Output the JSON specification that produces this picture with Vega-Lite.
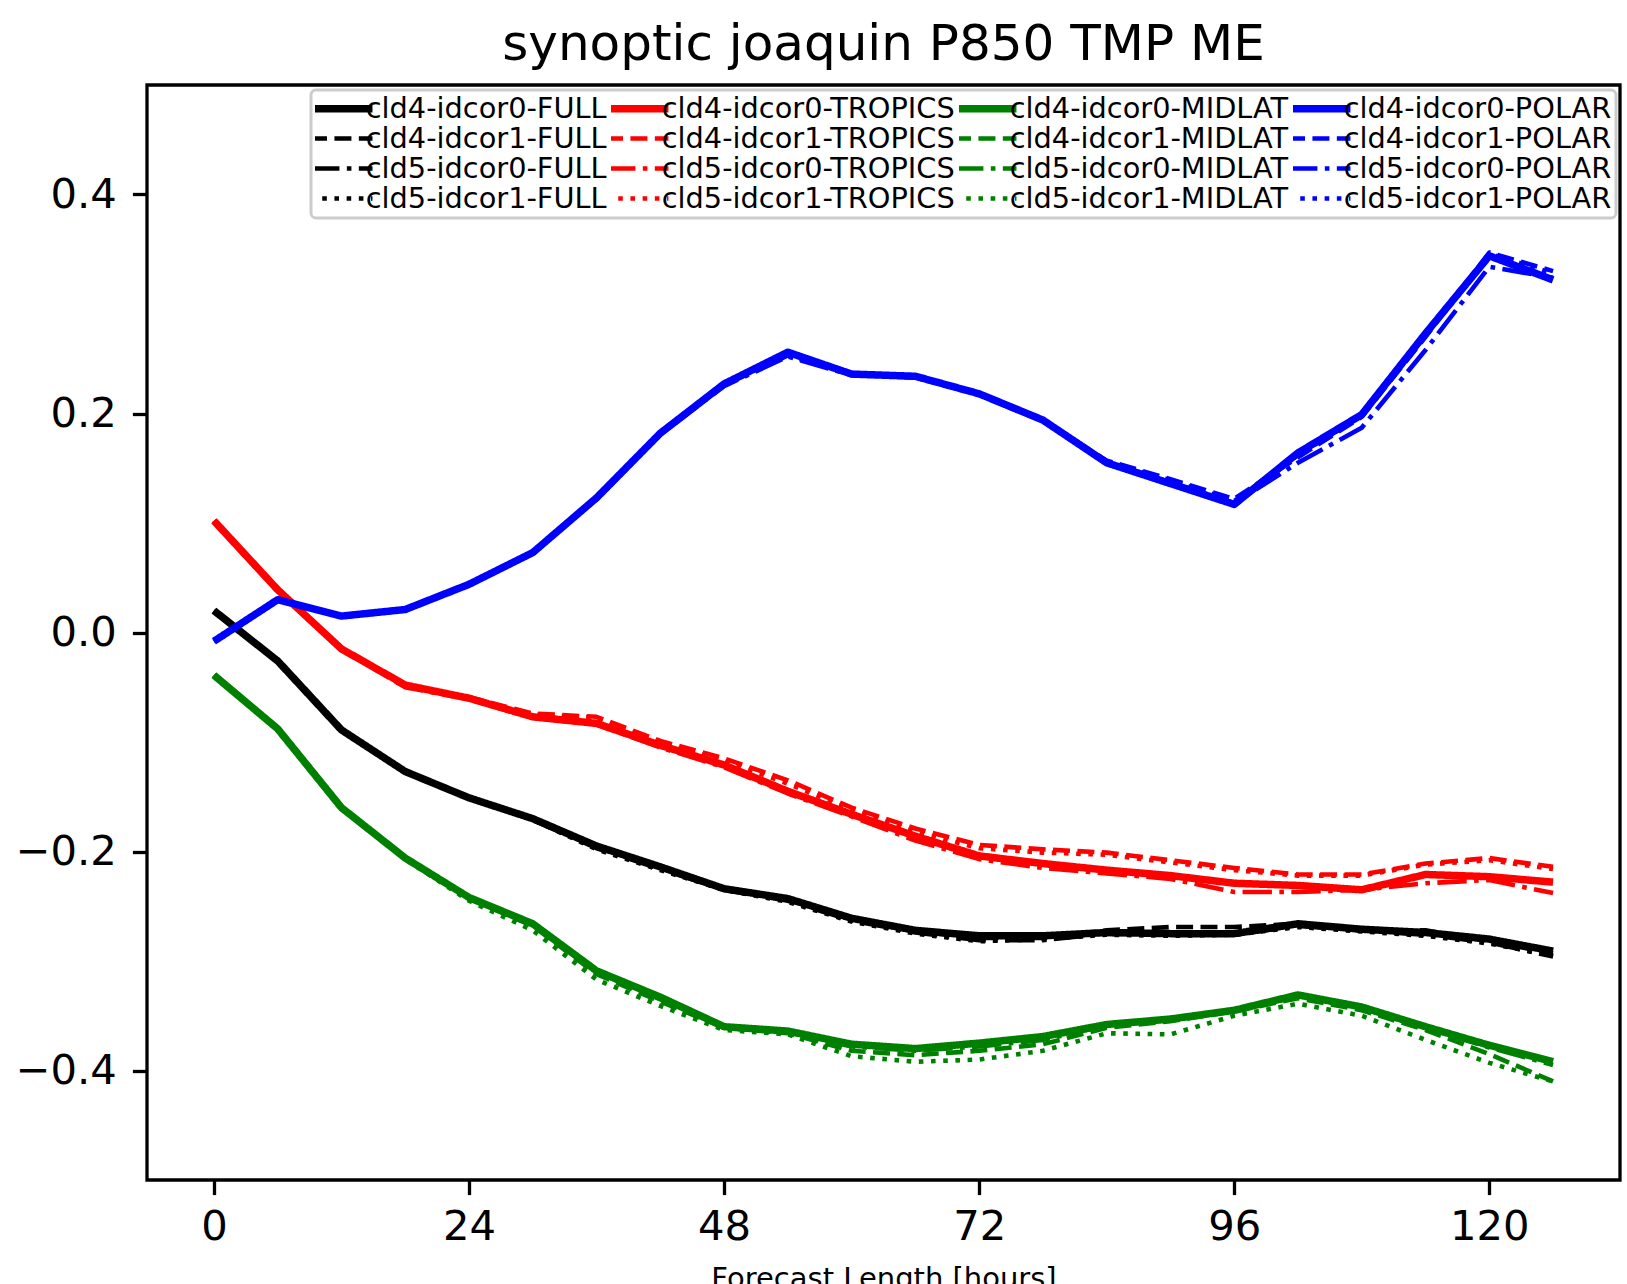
{
  "$schema": "https://vega.github.io/schema/vega-lite/v6.json",
  "autosize": {"type": "none"},
  "width": 1473,
  "height": 1095,
  "padding": {"left": 147, "top": 85, "right": 7, "bottom": 104},
  "background": "white",
  "title": {"text": "synoptic joaquin P850 TMP ME", "font": "DejaVu Sans", "fontSize": 50, "fontWeight": "normal", "color": "black", "baseline": "alphabetic", "offset": -25, "anchor": "middle"},
  "data": {"values": [
    {"series":"cld4-idcor0-FULL","hour":0,"value":0.020},{"series":"cld4-idcor0-FULL","hour":6,"value":-0.026},{"series":"cld4-idcor0-FULL","hour":12,"value":-0.089},{"series":"cld4-idcor0-FULL","hour":18,"value":-0.127},{"series":"cld4-idcor0-FULL","hour":24,"value":-0.151},{"series":"cld4-idcor0-FULL","hour":30,"value":-0.170},{"series":"cld4-idcor0-FULL","hour":36,"value":-0.195},{"series":"cld4-idcor0-FULL","hour":42,"value":-0.214},{"series":"cld4-idcor0-FULL","hour":48,"value":-0.234},{"series":"cld4-idcor0-FULL","hour":54,"value":-0.243},{"series":"cld4-idcor0-FULL","hour":60,"value":-0.261},{"series":"cld4-idcor0-FULL","hour":66,"value":-0.272},{"series":"cld4-idcor0-FULL","hour":72,"value":-0.277},{"series":"cld4-idcor0-FULL","hour":78,"value":-0.277},{"series":"cld4-idcor0-FULL","hour":84,"value":-0.274},{"series":"cld4-idcor0-FULL","hour":90,"value":-0.275},{"series":"cld4-idcor0-FULL","hour":96,"value":-0.275},{"series":"cld4-idcor0-FULL","hour":102,"value":-0.266},{"series":"cld4-idcor0-FULL","hour":108,"value":-0.271},{"series":"cld4-idcor0-FULL","hour":114,"value":-0.274},{"series":"cld4-idcor0-FULL","hour":120,"value":-0.280},{"series":"cld4-idcor0-FULL","hour":126,"value":-0.291},
    {"series":"cld4-idcor1-FULL","hour":0,"value":0.020},{"series":"cld4-idcor1-FULL","hour":6,"value":-0.026},{"series":"cld4-idcor1-FULL","hour":12,"value":-0.089},{"series":"cld4-idcor1-FULL","hour":18,"value":-0.127},{"series":"cld4-idcor1-FULL","hour":24,"value":-0.151},{"series":"cld4-idcor1-FULL","hour":30,"value":-0.171},{"series":"cld4-idcor1-FULL","hour":36,"value":-0.196},{"series":"cld4-idcor1-FULL","hour":42,"value":-0.215},{"series":"cld4-idcor1-FULL","hour":48,"value":-0.234},{"series":"cld4-idcor1-FULL","hour":54,"value":-0.244},{"series":"cld4-idcor1-FULL","hour":60,"value":-0.262},{"series":"cld4-idcor1-FULL","hour":66,"value":-0.273},{"series":"cld4-idcor1-FULL","hour":72,"value":-0.279},{"series":"cld4-idcor1-FULL","hour":78,"value":-0.279},{"series":"cld4-idcor1-FULL","hour":84,"value":-0.272},{"series":"cld4-idcor1-FULL","hour":90,"value":-0.269},{"series":"cld4-idcor1-FULL","hour":96,"value":-0.269},{"series":"cld4-idcor1-FULL","hour":102,"value":-0.266},{"series":"cld4-idcor1-FULL","hour":108,"value":-0.272},{"series":"cld4-idcor1-FULL","hour":114,"value":-0.272},{"series":"cld4-idcor1-FULL","hour":120,"value":-0.282},{"series":"cld4-idcor1-FULL","hour":126,"value":-0.293},
    {"series":"cld5-idcor0-FULL","hour":0,"value":0.020},{"series":"cld5-idcor0-FULL","hour":6,"value":-0.026},{"series":"cld5-idcor0-FULL","hour":12,"value":-0.089},{"series":"cld5-idcor0-FULL","hour":18,"value":-0.127},{"series":"cld5-idcor0-FULL","hour":24,"value":-0.151},{"series":"cld5-idcor0-FULL","hour":30,"value":-0.171},{"series":"cld5-idcor0-FULL","hour":36,"value":-0.197},{"series":"cld5-idcor0-FULL","hour":42,"value":-0.216},{"series":"cld5-idcor0-FULL","hour":48,"value":-0.235},{"series":"cld5-idcor0-FULL","hour":54,"value":-0.245},{"series":"cld5-idcor0-FULL","hour":60,"value":-0.263},{"series":"cld5-idcor0-FULL","hour":66,"value":-0.274},{"series":"cld5-idcor0-FULL","hour":72,"value":-0.281},{"series":"cld5-idcor0-FULL","hour":78,"value":-0.281},{"series":"cld5-idcor0-FULL","hour":84,"value":-0.275},{"series":"cld5-idcor0-FULL","hour":90,"value":-0.276},{"series":"cld5-idcor0-FULL","hour":96,"value":-0.276},{"series":"cld5-idcor0-FULL","hour":102,"value":-0.268},{"series":"cld5-idcor0-FULL","hour":108,"value":-0.272},{"series":"cld5-idcor0-FULL","hour":114,"value":-0.276},{"series":"cld5-idcor0-FULL","hour":120,"value":-0.283},{"series":"cld5-idcor0-FULL","hour":126,"value":-0.296},
    {"series":"cld5-idcor1-FULL","hour":0,"value":0.020},{"series":"cld5-idcor1-FULL","hour":6,"value":-0.026},{"series":"cld5-idcor1-FULL","hour":12,"value":-0.089},{"series":"cld5-idcor1-FULL","hour":18,"value":-0.127},{"series":"cld5-idcor1-FULL","hour":24,"value":-0.151},{"series":"cld5-idcor1-FULL","hour":30,"value":-0.171},{"series":"cld5-idcor1-FULL","hour":36,"value":-0.198},{"series":"cld5-idcor1-FULL","hour":42,"value":-0.217},{"series":"cld5-idcor1-FULL","hour":48,"value":-0.235},{"series":"cld5-idcor1-FULL","hour":54,"value":-0.246},{"series":"cld5-idcor1-FULL","hour":60,"value":-0.264},{"series":"cld5-idcor1-FULL","hour":66,"value":-0.275},{"series":"cld5-idcor1-FULL","hour":72,"value":-0.282},{"series":"cld5-idcor1-FULL","hour":78,"value":-0.280},{"series":"cld5-idcor1-FULL","hour":84,"value":-0.276},{"series":"cld5-idcor1-FULL","hour":90,"value":-0.277},{"series":"cld5-idcor1-FULL","hour":96,"value":-0.276},{"series":"cld5-idcor1-FULL","hour":102,"value":-0.269},{"series":"cld5-idcor1-FULL","hour":108,"value":-0.273},{"series":"cld5-idcor1-FULL","hour":114,"value":-0.277},{"series":"cld5-idcor1-FULL","hour":120,"value":-0.284},{"series":"cld5-idcor1-FULL","hour":126,"value":-0.295},
    {"series":"cld4-idcor0-TROPICS","hour":0,"value":0.102},{"series":"cld4-idcor0-TROPICS","hour":6,"value":0.039},{"series":"cld4-idcor0-TROPICS","hour":12,"value":-0.015},{"series":"cld4-idcor0-TROPICS","hour":18,"value":-0.048},{"series":"cld4-idcor0-TROPICS","hour":24,"value":-0.060},{"series":"cld4-idcor0-TROPICS","hour":30,"value":-0.077},{"series":"cld4-idcor0-TROPICS","hour":36,"value":-0.083},{"series":"cld4-idcor0-TROPICS","hour":42,"value":-0.103},{"series":"cld4-idcor0-TROPICS","hour":48,"value":-0.121},{"series":"cld4-idcor0-TROPICS","hour":54,"value":-0.145},{"series":"cld4-idcor0-TROPICS","hour":60,"value":-0.166},{"series":"cld4-idcor0-TROPICS","hour":66,"value":-0.186},{"series":"cld4-idcor0-TROPICS","hour":72,"value":-0.204},{"series":"cld4-idcor0-TROPICS","hour":78,"value":-0.211},{"series":"cld4-idcor0-TROPICS","hour":84,"value":-0.217},{"series":"cld4-idcor0-TROPICS","hour":90,"value":-0.222},{"series":"cld4-idcor0-TROPICS","hour":96,"value":-0.229},{"series":"cld4-idcor0-TROPICS","hour":102,"value":-0.231},{"series":"cld4-idcor0-TROPICS","hour":108,"value":-0.235},{"series":"cld4-idcor0-TROPICS","hour":114,"value":-0.221},{"series":"cld4-idcor0-TROPICS","hour":120,"value":-0.223},{"series":"cld4-idcor0-TROPICS","hour":126,"value":-0.228},
    {"series":"cld4-idcor1-TROPICS","hour":0,"value":0.102},{"series":"cld4-idcor1-TROPICS","hour":6,"value":0.039},{"series":"cld4-idcor1-TROPICS","hour":12,"value":-0.015},{"series":"cld4-idcor1-TROPICS","hour":18,"value":-0.049},{"series":"cld4-idcor1-TROPICS","hour":24,"value":-0.059},{"series":"cld4-idcor1-TROPICS","hour":30,"value":-0.074},{"series":"cld4-idcor1-TROPICS","hour":36,"value":-0.077},{"series":"cld4-idcor1-TROPICS","hour":42,"value":-0.099},{"series":"cld4-idcor1-TROPICS","hour":48,"value":-0.115},{"series":"cld4-idcor1-TROPICS","hour":54,"value":-0.135},{"series":"cld4-idcor1-TROPICS","hour":60,"value":-0.160},{"series":"cld4-idcor1-TROPICS","hour":66,"value":-0.179},{"series":"cld4-idcor1-TROPICS","hour":72,"value":-0.194},{"series":"cld4-idcor1-TROPICS","hour":78,"value":-0.198},{"series":"cld4-idcor1-TROPICS","hour":84,"value":-0.201},{"series":"cld4-idcor1-TROPICS","hour":90,"value":-0.208},{"series":"cld4-idcor1-TROPICS","hour":96,"value":-0.215},{"series":"cld4-idcor1-TROPICS","hour":102,"value":-0.221},{"series":"cld4-idcor1-TROPICS","hour":108,"value":-0.221},{"series":"cld4-idcor1-TROPICS","hour":114,"value":-0.211},{"series":"cld4-idcor1-TROPICS","hour":120,"value":-0.206},{"series":"cld4-idcor1-TROPICS","hour":126,"value":-0.214},
    {"series":"cld5-idcor0-TROPICS","hour":0,"value":0.102},{"series":"cld5-idcor0-TROPICS","hour":6,"value":0.039},{"series":"cld5-idcor0-TROPICS","hour":12,"value":-0.015},{"series":"cld5-idcor0-TROPICS","hour":18,"value":-0.050},{"series":"cld5-idcor0-TROPICS","hour":24,"value":-0.061},{"series":"cld5-idcor0-TROPICS","hour":30,"value":-0.078},{"series":"cld5-idcor0-TROPICS","hour":36,"value":-0.084},{"series":"cld5-idcor0-TROPICS","hour":42,"value":-0.105},{"series":"cld5-idcor0-TROPICS","hour":48,"value":-0.123},{"series":"cld5-idcor0-TROPICS","hour":54,"value":-0.147},{"series":"cld5-idcor0-TROPICS","hour":60,"value":-0.168},{"series":"cld5-idcor0-TROPICS","hour":66,"value":-0.190},{"series":"cld5-idcor0-TROPICS","hour":72,"value":-0.207},{"series":"cld5-idcor0-TROPICS","hour":78,"value":-0.215},{"series":"cld5-idcor0-TROPICS","hour":84,"value":-0.220},{"series":"cld5-idcor0-TROPICS","hour":90,"value":-0.225},{"series":"cld5-idcor0-TROPICS","hour":96,"value":-0.237},{"series":"cld5-idcor0-TROPICS","hour":102,"value":-0.237},{"series":"cld5-idcor0-TROPICS","hour":108,"value":-0.235},{"series":"cld5-idcor0-TROPICS","hour":114,"value":-0.229},{"series":"cld5-idcor0-TROPICS","hour":120,"value":-0.226},{"series":"cld5-idcor0-TROPICS","hour":126,"value":-0.238},
    {"series":"cld5-idcor1-TROPICS","hour":0,"value":0.102},{"series":"cld5-idcor1-TROPICS","hour":6,"value":0.039},{"series":"cld5-idcor1-TROPICS","hour":12,"value":-0.015},{"series":"cld5-idcor1-TROPICS","hour":18,"value":-0.050},{"series":"cld5-idcor1-TROPICS","hour":24,"value":-0.060},{"series":"cld5-idcor1-TROPICS","hour":30,"value":-0.075},{"series":"cld5-idcor1-TROPICS","hour":36,"value":-0.078},{"series":"cld5-idcor1-TROPICS","hour":42,"value":-0.101},{"series":"cld5-idcor1-TROPICS","hour":48,"value":-0.117},{"series":"cld5-idcor1-TROPICS","hour":54,"value":-0.138},{"series":"cld5-idcor1-TROPICS","hour":60,"value":-0.162},{"series":"cld5-idcor1-TROPICS","hour":66,"value":-0.182},{"series":"cld5-idcor1-TROPICS","hour":72,"value":-0.197},{"series":"cld5-idcor1-TROPICS","hour":78,"value":-0.201},{"series":"cld5-idcor1-TROPICS","hour":84,"value":-0.203},{"series":"cld5-idcor1-TROPICS","hour":90,"value":-0.210},{"series":"cld5-idcor1-TROPICS","hour":96,"value":-0.217},{"series":"cld5-idcor1-TROPICS","hour":102,"value":-0.222},{"series":"cld5-idcor1-TROPICS","hour":108,"value":-0.222},{"series":"cld5-idcor1-TROPICS","hour":114,"value":-0.212},{"series":"cld5-idcor1-TROPICS","hour":120,"value":-0.208},{"series":"cld5-idcor1-TROPICS","hour":126,"value":-0.216},
    {"series":"cld4-idcor0-MIDLAT","hour":0,"value":-0.039},{"series":"cld4-idcor0-MIDLAT","hour":6,"value":-0.088},{"series":"cld4-idcor0-MIDLAT","hour":12,"value":-0.160},{"series":"cld4-idcor0-MIDLAT","hour":18,"value":-0.206},{"series":"cld4-idcor0-MIDLAT","hour":24,"value":-0.242},{"series":"cld4-idcor0-MIDLAT","hour":30,"value":-0.266},{"series":"cld4-idcor0-MIDLAT","hour":36,"value":-0.309},{"series":"cld4-idcor0-MIDLAT","hour":42,"value":-0.333},{"series":"cld4-idcor0-MIDLAT","hour":48,"value":-0.360},{"series":"cld4-idcor0-MIDLAT","hour":54,"value":-0.364},{"series":"cld4-idcor0-MIDLAT","hour":60,"value":-0.376},{"series":"cld4-idcor0-MIDLAT","hour":66,"value":-0.380},{"series":"cld4-idcor0-MIDLAT","hour":72,"value":-0.375},{"series":"cld4-idcor0-MIDLAT","hour":78,"value":-0.369},{"series":"cld4-idcor0-MIDLAT","hour":84,"value":-0.358},{"series":"cld4-idcor0-MIDLAT","hour":90,"value":-0.353},{"series":"cld4-idcor0-MIDLAT","hour":96,"value":-0.345},{"series":"cld4-idcor0-MIDLAT","hour":102,"value":-0.331},{"series":"cld4-idcor0-MIDLAT","hour":108,"value":-0.342},{"series":"cld4-idcor0-MIDLAT","hour":114,"value":-0.360},{"series":"cld4-idcor0-MIDLAT","hour":120,"value":-0.377},{"series":"cld4-idcor0-MIDLAT","hour":126,"value":-0.392},
    {"series":"cld4-idcor1-MIDLAT","hour":0,"value":-0.039},{"series":"cld4-idcor1-MIDLAT","hour":6,"value":-0.088},{"series":"cld4-idcor1-MIDLAT","hour":12,"value":-0.160},{"series":"cld4-idcor1-MIDLAT","hour":18,"value":-0.206},{"series":"cld4-idcor1-MIDLAT","hour":24,"value":-0.243},{"series":"cld4-idcor1-MIDLAT","hour":30,"value":-0.268},{"series":"cld4-idcor1-MIDLAT","hour":36,"value":-0.312},{"series":"cld4-idcor1-MIDLAT","hour":42,"value":-0.337},{"series":"cld4-idcor1-MIDLAT","hour":48,"value":-0.361},{"series":"cld4-idcor1-MIDLAT","hour":54,"value":-0.366},{"series":"cld4-idcor1-MIDLAT","hour":60,"value":-0.382},{"series":"cld4-idcor1-MIDLAT","hour":66,"value":-0.386},{"series":"cld4-idcor1-MIDLAT","hour":72,"value":-0.382},{"series":"cld4-idcor1-MIDLAT","hour":78,"value":-0.376},{"series":"cld4-idcor1-MIDLAT","hour":84,"value":-0.361},{"series":"cld4-idcor1-MIDLAT","hour":90,"value":-0.355},{"series":"cld4-idcor1-MIDLAT","hour":96,"value":-0.346},{"series":"cld4-idcor1-MIDLAT","hour":102,"value":-0.334},{"series":"cld4-idcor1-MIDLAT","hour":108,"value":-0.345},{"series":"cld4-idcor1-MIDLAT","hour":114,"value":-0.363},{"series":"cld4-idcor1-MIDLAT","hour":120,"value":-0.385},{"series":"cld4-idcor1-MIDLAT","hour":126,"value":-0.410},
    {"series":"cld5-idcor0-MIDLAT","hour":0,"value":-0.039},{"series":"cld5-idcor0-MIDLAT","hour":6,"value":-0.088},{"series":"cld5-idcor0-MIDLAT","hour":12,"value":-0.160},{"series":"cld5-idcor0-MIDLAT","hour":18,"value":-0.206},{"series":"cld5-idcor0-MIDLAT","hour":24,"value":-0.242},{"series":"cld5-idcor0-MIDLAT","hour":30,"value":-0.267},{"series":"cld5-idcor0-MIDLAT","hour":36,"value":-0.310},{"series":"cld5-idcor0-MIDLAT","hour":42,"value":-0.335},{"series":"cld5-idcor0-MIDLAT","hour":48,"value":-0.360},{"series":"cld5-idcor0-MIDLAT","hour":54,"value":-0.365},{"series":"cld5-idcor0-MIDLAT","hour":60,"value":-0.378},{"series":"cld5-idcor0-MIDLAT","hour":66,"value":-0.382},{"series":"cld5-idcor0-MIDLAT","hour":72,"value":-0.378},{"series":"cld5-idcor0-MIDLAT","hour":78,"value":-0.372},{"series":"cld5-idcor0-MIDLAT","hour":84,"value":-0.359},{"series":"cld5-idcor0-MIDLAT","hour":90,"value":-0.354},{"series":"cld5-idcor0-MIDLAT","hour":96,"value":-0.345},{"series":"cld5-idcor0-MIDLAT","hour":102,"value":-0.332},{"series":"cld5-idcor0-MIDLAT","hour":108,"value":-0.343},{"series":"cld5-idcor0-MIDLAT","hour":114,"value":-0.361},{"series":"cld5-idcor0-MIDLAT","hour":120,"value":-0.379},{"series":"cld5-idcor0-MIDLAT","hour":126,"value":-0.395},
    {"series":"cld5-idcor1-MIDLAT","hour":0,"value":-0.039},{"series":"cld5-idcor1-MIDLAT","hour":6,"value":-0.088},{"series":"cld5-idcor1-MIDLAT","hour":12,"value":-0.160},{"series":"cld5-idcor1-MIDLAT","hour":18,"value":-0.207},{"series":"cld5-idcor1-MIDLAT","hour":24,"value":-0.245},{"series":"cld5-idcor1-MIDLAT","hour":30,"value":-0.272},{"series":"cld5-idcor1-MIDLAT","hour":36,"value":-0.317},{"series":"cld5-idcor1-MIDLAT","hour":42,"value":-0.341},{"series":"cld5-idcor1-MIDLAT","hour":48,"value":-0.363},{"series":"cld5-idcor1-MIDLAT","hour":54,"value":-0.367},{"series":"cld5-idcor1-MIDLAT","hour":60,"value":-0.387},{"series":"cld5-idcor1-MIDLAT","hour":66,"value":-0.392},{"series":"cld5-idcor1-MIDLAT","hour":72,"value":-0.390},{"series":"cld5-idcor1-MIDLAT","hour":78,"value":-0.382},{"series":"cld5-idcor1-MIDLAT","hour":84,"value":-0.366},{"series":"cld5-idcor1-MIDLAT","hour":90,"value":-0.367},{"series":"cld5-idcor1-MIDLAT","hour":96,"value":-0.350},{"series":"cld5-idcor1-MIDLAT","hour":102,"value":-0.339},{"series":"cld5-idcor1-MIDLAT","hour":108,"value":-0.350},{"series":"cld5-idcor1-MIDLAT","hour":114,"value":-0.372},{"series":"cld5-idcor1-MIDLAT","hour":120,"value":-0.393},{"series":"cld5-idcor1-MIDLAT","hour":126,"value":-0.410},
    {"series":"cld4-idcor0-POLAR","hour":0,"value":-0.008},{"series":"cld4-idcor0-POLAR","hour":6,"value":0.030},{"series":"cld4-idcor0-POLAR","hour":12,"value":0.015},{"series":"cld4-idcor0-POLAR","hour":18,"value":0.021},{"series":"cld4-idcor0-POLAR","hour":24,"value":0.044},{"series":"cld4-idcor0-POLAR","hour":30,"value":0.073},{"series":"cld4-idcor0-POLAR","hour":36,"value":0.123},{"series":"cld4-idcor0-POLAR","hour":42,"value":0.182},{"series":"cld4-idcor0-POLAR","hour":48,"value":0.227},{"series":"cld4-idcor0-POLAR","hour":54,"value":0.256},{"series":"cld4-idcor0-POLAR","hour":60,"value":0.236},{"series":"cld4-idcor0-POLAR","hour":66,"value":0.234},{"series":"cld4-idcor0-POLAR","hour":72,"value":0.218},{"series":"cld4-idcor0-POLAR","hour":78,"value":0.194},{"series":"cld4-idcor0-POLAR","hour":84,"value":0.155},{"series":"cld4-idcor0-POLAR","hour":90,"value":0.136},{"series":"cld4-idcor0-POLAR","hour":96,"value":0.117},{"series":"cld4-idcor0-POLAR","hour":102,"value":0.164},{"series":"cld4-idcor0-POLAR","hour":108,"value":0.199},{"series":"cld4-idcor0-POLAR","hour":114,"value":0.273},{"series":"cld4-idcor0-POLAR","hour":120,"value":0.344},{"series":"cld4-idcor0-POLAR","hour":126,"value":0.322},
    {"series":"cld4-idcor1-POLAR","hour":0,"value":-0.008},{"series":"cld4-idcor1-POLAR","hour":6,"value":0.030},{"series":"cld4-idcor1-POLAR","hour":12,"value":0.015},{"series":"cld4-idcor1-POLAR","hour":18,"value":0.021},{"series":"cld4-idcor1-POLAR","hour":24,"value":0.044},{"series":"cld4-idcor1-POLAR","hour":30,"value":0.073},{"series":"cld4-idcor1-POLAR","hour":36,"value":0.122},{"series":"cld4-idcor1-POLAR","hour":42,"value":0.181},{"series":"cld4-idcor1-POLAR","hour":48,"value":0.226},{"series":"cld4-idcor1-POLAR","hour":54,"value":0.253},{"series":"cld4-idcor1-POLAR","hour":60,"value":0.236},{"series":"cld4-idcor1-POLAR","hour":66,"value":0.233},{"series":"cld4-idcor1-POLAR","hour":72,"value":0.218},{"series":"cld4-idcor1-POLAR","hour":78,"value":0.194},{"series":"cld4-idcor1-POLAR","hour":84,"value":0.157},{"series":"cld4-idcor1-POLAR","hour":90,"value":0.140},{"series":"cld4-idcor1-POLAR","hour":96,"value":0.122},{"series":"cld4-idcor1-POLAR","hour":102,"value":0.160},{"series":"cld4-idcor1-POLAR","hour":108,"value":0.197},{"series":"cld4-idcor1-POLAR","hour":114,"value":0.270},{"series":"cld4-idcor1-POLAR","hour":120,"value":0.347},{"series":"cld4-idcor1-POLAR","hour":126,"value":0.330},
    {"series":"cld5-idcor0-POLAR","hour":0,"value":-0.008},{"series":"cld5-idcor0-POLAR","hour":6,"value":0.030},{"series":"cld5-idcor0-POLAR","hour":12,"value":0.015},{"series":"cld5-idcor0-POLAR","hour":18,"value":0.021},{"series":"cld5-idcor0-POLAR","hour":24,"value":0.044},{"series":"cld5-idcor0-POLAR","hour":30,"value":0.073},{"series":"cld5-idcor0-POLAR","hour":36,"value":0.122},{"series":"cld5-idcor0-POLAR","hour":42,"value":0.181},{"series":"cld5-idcor0-POLAR","hour":48,"value":0.225},{"series":"cld5-idcor0-POLAR","hour":54,"value":0.252},{"series":"cld5-idcor0-POLAR","hour":60,"value":0.235},{"series":"cld5-idcor0-POLAR","hour":66,"value":0.233},{"series":"cld5-idcor0-POLAR","hour":72,"value":0.217},{"series":"cld5-idcor0-POLAR","hour":78,"value":0.193},{"series":"cld5-idcor0-POLAR","hour":84,"value":0.154},{"series":"cld5-idcor0-POLAR","hour":90,"value":0.137},{"series":"cld5-idcor0-POLAR","hour":96,"value":0.118},{"series":"cld5-idcor0-POLAR","hour":102,"value":0.155},{"series":"cld5-idcor0-POLAR","hour":108,"value":0.187},{"series":"cld5-idcor0-POLAR","hour":114,"value":0.258},{"series":"cld5-idcor0-POLAR","hour":120,"value":0.334},{"series":"cld5-idcor0-POLAR","hour":126,"value":0.324},
    {"series":"cld5-idcor1-POLAR","hour":0,"value":-0.008},{"series":"cld5-idcor1-POLAR","hour":6,"value":0.030},{"series":"cld5-idcor1-POLAR","hour":12,"value":0.015},{"series":"cld5-idcor1-POLAR","hour":18,"value":0.021},{"series":"cld5-idcor1-POLAR","hour":24,"value":0.044},{"series":"cld5-idcor1-POLAR","hour":30,"value":0.073},{"series":"cld5-idcor1-POLAR","hour":36,"value":0.122},{"series":"cld5-idcor1-POLAR","hour":42,"value":0.181},{"series":"cld5-idcor1-POLAR","hour":48,"value":0.226},{"series":"cld5-idcor1-POLAR","hour":54,"value":0.254},{"series":"cld5-idcor1-POLAR","hour":60,"value":0.236},{"series":"cld5-idcor1-POLAR","hour":66,"value":0.233},{"series":"cld5-idcor1-POLAR","hour":72,"value":0.218},{"series":"cld5-idcor1-POLAR","hour":78,"value":0.194},{"series":"cld5-idcor1-POLAR","hour":84,"value":0.156},{"series":"cld5-idcor1-POLAR","hour":90,"value":0.139},{"series":"cld5-idcor1-POLAR","hour":96,"value":0.120},{"series":"cld5-idcor1-POLAR","hour":102,"value":0.162},{"series":"cld5-idcor1-POLAR","hour":108,"value":0.198},{"series":"cld5-idcor1-POLAR","hour":114,"value":0.272},{"series":"cld5-idcor1-POLAR","hour":120,"value":0.346},{"series":"cld5-idcor1-POLAR","hour":126,"value":0.328}
  ]},
  "mark": {"type": "line", "strokeCap": "butt", "strokeJoin": "round", "clip": true},
  "encoding": {
    "x": {"field": "hour", "type": "quantitative", "scale": {"domain": [-6.3, 132.3], "nice": false, "zero": false},
          "axis": {"values": [0, 24, 48, 72, 96, 120], "title": "Forecast Length [hours]", "titlePadding": 16, "titleFontSize": 29}},
    "y": {"field": "value", "type": "quantitative", "scale": {"domain": [-0.5, 0.5], "nice": false, "zero": false},
          "axis": {"values": [-0.4, -0.2, 0, 0.2, 0.4], "format": ".1f", "title": null}},
    "color": {"field": "series", "type": "nominal",
      "scale": {"domain": ["cld4-idcor0-FULL","cld4-idcor1-FULL","cld5-idcor0-FULL","cld5-idcor1-FULL","cld4-idcor0-TROPICS","cld4-idcor1-TROPICS","cld5-idcor0-TROPICS","cld5-idcor1-TROPICS","cld4-idcor0-MIDLAT","cld4-idcor1-MIDLAT","cld5-idcor0-MIDLAT","cld5-idcor1-MIDLAT","cld4-idcor0-POLAR","cld4-idcor1-POLAR","cld5-idcor0-POLAR","cld5-idcor1-POLAR"],
                "range": ["#000000","#000000","#000000","#000000","#ff0000","#ff0000","#ff0000","#ff0000","#008000","#008000","#008000","#008000","#0000ff","#0000ff","#0000ff","#0000ff"]},
      "legend": {"orient": "none", "legendX": 164, "legendY": 5, "columns": 4, "title": null}},
    "strokeDash": {"field": "series", "type": "nominal",
      "scale": {"domain": ["cld4-idcor0-FULL","cld4-idcor1-FULL","cld5-idcor0-FULL","cld5-idcor1-FULL","cld4-idcor0-TROPICS","cld4-idcor1-TROPICS","cld5-idcor0-TROPICS","cld5-idcor1-TROPICS","cld4-idcor0-MIDLAT","cld4-idcor1-MIDLAT","cld5-idcor0-MIDLAT","cld5-idcor1-MIDLAT","cld4-idcor0-POLAR","cld4-idcor1-POLAR","cld5-idcor0-POLAR","cld5-idcor1-POLAR"],
                "range": [[1,0],[17,7.4],[29.4,7.4,4.6,7.4],[4.6,7.6],[1,0],[17,7.4],[29.4,7.4,4.6,7.4],[4.6,7.6],[1,0],[17,7.4],[29.4,7.4,4.6,7.4],[4.6,7.6],[1,0],[17,7.4],[29.4,7.4,4.6,7.4],[4.6,7.6]]},
      "legend": {"orient": "none", "legendX": 164, "legendY": 5, "columns": 4, "title": null}},
    "strokeWidth": {"field": "series", "type": "nominal",
      "scale": {"type": "ordinal", "domain": ["cld4-idcor0-FULL","cld4-idcor1-FULL","cld5-idcor0-FULL","cld5-idcor1-FULL","cld4-idcor0-TROPICS","cld4-idcor1-TROPICS","cld5-idcor0-TROPICS","cld5-idcor1-TROPICS","cld4-idcor0-MIDLAT","cld4-idcor1-MIDLAT","cld5-idcor0-MIDLAT","cld5-idcor1-MIDLAT","cld4-idcor0-POLAR","cld4-idcor1-POLAR","cld5-idcor0-POLAR","cld5-idcor1-POLAR"],
                "range": [7.5,4.6,4.6,4.6,7.5,4.6,4.6,4.6,7.5,4.6,4.6,4.6,7.5,4.6,4.6,4.6]},
      "legend": {"orient": "none", "legendX": 164, "legendY": 5, "columns": 4, "title": null}}
  },
  "config": {
    "view": {"stroke": "#000000", "strokeWidth": 3.3},
    "axis": {"domain": false, "grid": false, "ticks": true, "tickColor": "#000000", "tickWidth": 3.3, "tickSize": 14.6,
             "labelFont": "DejaVu Sans", "labelFontSize": 41.7, "labelColor": "#000000", "labelPadding": 12,
             "titleFont": "DejaVu Sans", "titleFontSize": 41.7, "titleFontWeight": "normal", "titleColor": "#000000"},
    "axisY": {"labelPadding": 16},
    "legend": {"symbolType": "stroke", "symbolSize": 3900, "clipHeight": 29, "labelFont": "DejaVu Sans", "labelFontSize": 28.8,
               "labelColor": "#000000", "labelOffset": -10.5, "labelLimit": 0, "columnPadding": 4, "rowPadding": 0, "padding": 4,
               "strokeColor": "#cccccc", "strokeWidth": 3, "fillColor": "rgba(255,255,255,0.8)", "cornerRadius": 5, "symbolOffset": -8.75}
  }
}
